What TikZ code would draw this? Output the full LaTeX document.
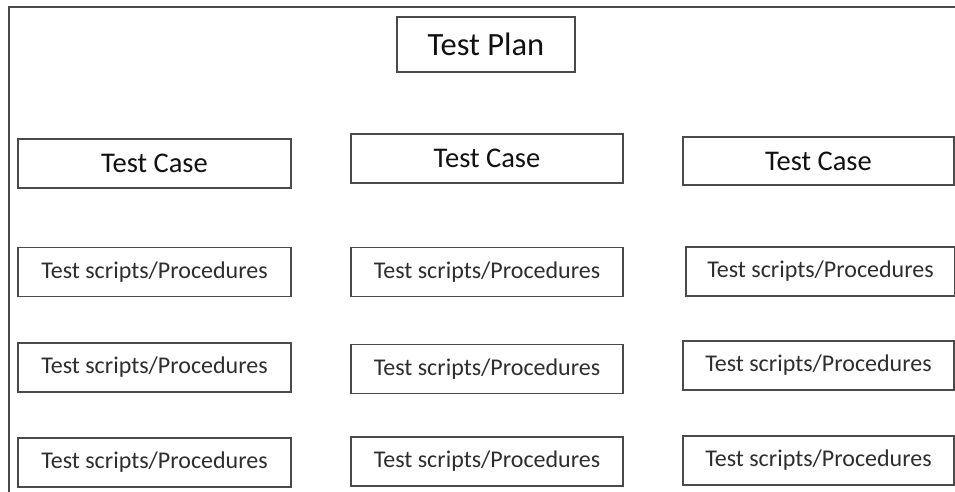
\documentclass[tikz,border=0pt]{standalone}
\usepackage{fontspec}
\setmainfont{Carlito}
\definecolor{edge}{HTML}{4A4A4A}
\definecolor{ink}{HTML}{111111}
\definecolor{inksoft}{HTML}{2E2E2E}
\begin{document}
\begin{tikzpicture}[x=1pt,y=-1pt,
  box/.style={draw=edge,line width=1.3pt,fill=white,inner sep=0pt,anchor=center},
  plan/.style={box,minimum width=178pt,minimum height=55pt,font=\fontsize{32.5}{38}\selectfont,text=ink},
  case/.style={box,minimum height=49pt,font=\fontsize{28.5}{33}\selectfont,text=ink},
  script/.style={box,minimum height=49pt,font=\fontsize{24}{28}\selectfont,text=inksoft}]
\useasboundingbox (0,0) rectangle (955,492);
\draw[edge,line width=1.3pt] (9,492) -- (9,7) -- (956,7);
\node[plan] (plan) at (486,44.5) {Test Plan};
\node[case,minimum width=273pt] (tc1) at (154.5,163.5) {Test Case};
\node[case,minimum width=272pt] (tc2) at (487,158.5) {Test Case};
\node[case,minimum width=271pt,minimum height=48pt] (tc3) at (818.5,161) {Test Case};
\node[script,minimum width=273pt] (ts11) at (154.5,272) {Test scripts/Procedures};
\node[script,minimum width=273pt] (ts12) at (154.5,367.5) {Test scripts/Procedures};
\node[script,minimum width=273pt] (ts13) at (154.5,462.5) {Test scripts/Procedures};
\node[script,minimum width=272pt] (ts21) at (487,272) {Test scripts/Procedures};
\node[script,minimum width=272pt] (ts22) at (487,369) {Test scripts/Procedures};
\node[script,minimum width=272pt] (ts23) at (487,461.5) {Test scripts/Procedures};
\node[script,minimum width=269pt] (ts31) at (820.5,271.5) {Test scripts/Procedures};
\node[script,minimum width=271pt] (ts32) at (818.5,365.5) {Test scripts/Procedures};
\node[script,minimum width=271pt] (ts33) at (818.5,460.5) {Test scripts/Procedures};
\end{tikzpicture}
\end{document}
